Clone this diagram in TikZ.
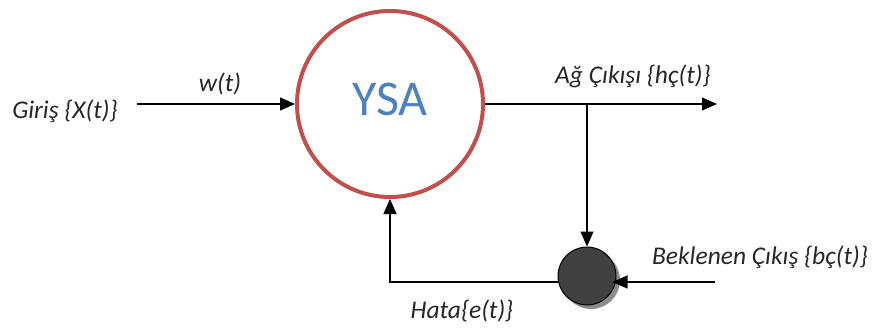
\documentclass[tikz,border=0pt]{standalone}
\usepackage{fontspec}
\setmainfont{Carlito}
\usetikzlibrary{arrows.meta}
\usetikzlibrary{shadows}
\definecolor{ysared}{RGB}{192,80,77}
\definecolor{ysablue}{RGB}{79,129,189}
\tikzset{
  arr/.style={line width=1.3pt, -{Triangle[length=15pt,width=13pt]}},
  lbl/.style={font=\fontsize{25.5}{28}\selectfont\itshape, text=black!85},
  net/.style={circle, draw=ysared, line width=4pt, minimum size=186pt, inner sep=0pt},
  sumnode/.style={circle, draw=black, line width=1pt, fill=black!75,
    minimum size=58pt, inner sep=0pt,
    drop shadow={shadow xshift=4pt, shadow yshift=-4pt, fill=black!45, opacity=1}}
}

\begin{document}
\begin{tikzpicture}[x=1pt, y=-1pt]
\useasboundingbox (0,0) rectangle (874,329);

% network block and error junction
\node[net] (ysa) at (390,104) {};
\node[font=\fontsize{50}{52}\selectfont, text=ysablue] (ysatext) at (390,99) {YSA};
\node[sumnode] (sum) at (587,276) {};

\coordinate (in) at (137,104);
\coordinate (out) at (717,104);
\coordinate (tap) at (587,104);
\coordinate (bref) at (715,282);
\coordinate (corner) at (390,282);

% signals
\draw[arr] (in) -- (ysa.west);
\draw[arr] (ysa.east) -- (out);
\draw[arr] (tap) -- (sum.north);
\draw[arr, shorten >=-4pt] (bref) -- (bref -| sum.east);
\draw[arr] (corner -| sum.west) -- (corner) -- (ysa.south);

% labels
\node[lbl] (giris) at (65,111) {Giriş \{X(t)\}};
\node[lbl] (wt) at (220,84) {w(t)};
\node[lbl] (agcikisi) at (633,76) {Ağ Çıkışı \{hç(t)\}};
\node[lbl] (beklenen) at (760,257) {Beklenen Çıkış \{bç(t)\}};
\node[lbl] (hata) at (462,311) {Hata\{e(t)\}};
\end{tikzpicture}
\end{document}
